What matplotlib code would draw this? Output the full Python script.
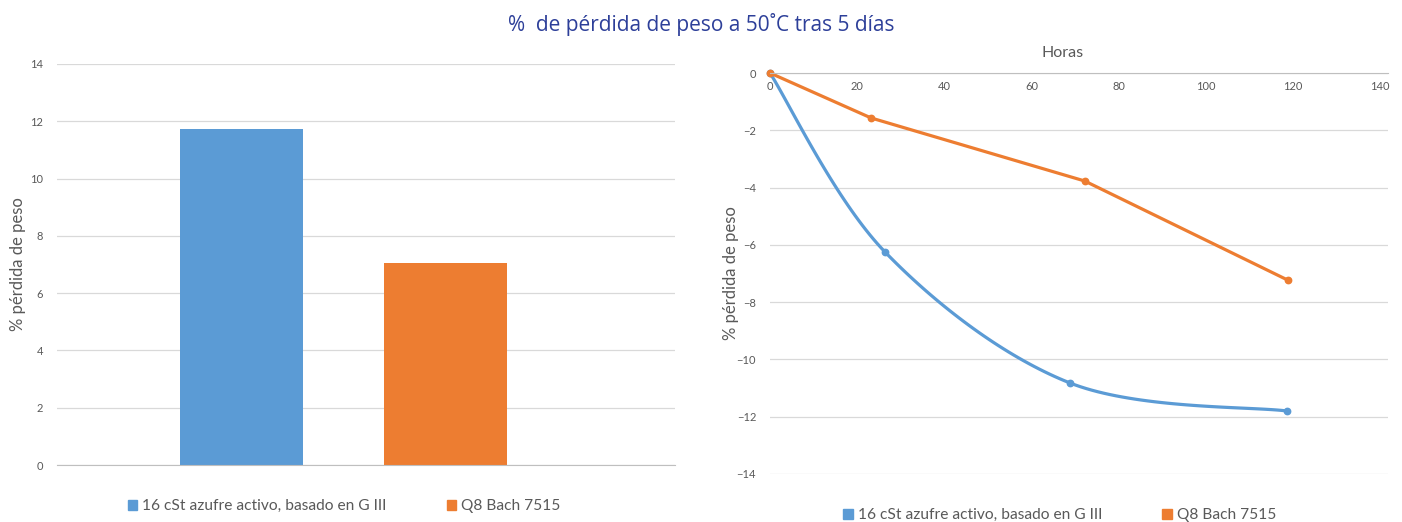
import matplotlib
matplotlib.use("Agg")
import matplotlib.pyplot as plt
import numpy as np
from matplotlib.patches import Patch

# data
series_names = ["16 cSt azufre activo, basado en G III", "Q8 Bach 7515"]
bar_values = [11.73, 7.05]

horas_azufre = [0, 26.4, 68.8, 118.6]
perdida_azufre = [0, -6.25, -10.82, -11.8]
horas_q8 = [0, 23.2, 72.2, 118.8]
perdida_q8 = [0, -1.57, -3.77, -7.23]

blue = "#5B9BD5"
orange = "#ED7D31"
grid_col = "#D9D9D9"
tick_col = "#595959"

plt.rcParams["font.family"] = ["Lato", "DejaVu Sans"]


def smooth(x, y, n=40):
    # Excel-like smoothed line (cardinal bezier through the points)
    x = np.asarray(x, float)
    y = np.asarray(y, float)
    px = np.concatenate([[x[0]], x, [x[-1]]])
    py = np.concatenate([[y[0]], y, [y[-1]]])
    xs, ys = [], []
    t = np.linspace(0, 1, n)
    for i in range(1, len(px) - 2):
        p0 = np.array([px[i], py[i]])
        p3 = np.array([px[i + 1], py[i + 1]])
        p1 = p0 + (np.array([px[i + 1], py[i + 1]]) - np.array([px[i - 1], py[i - 1]])) / 6
        p2 = p3 - (np.array([px[i + 2], py[i + 2]]) - np.array([px[i], py[i]])) / 6
        c = ((1 - t) ** 3)[:, None] * p0 + (3 * (1 - t) ** 2 * t)[:, None] * p1 \
            + (3 * (1 - t) * t ** 2)[:, None] * p2 + (t ** 3)[:, None] * p3
        xs.extend(c[:, 0])
        ys.extend(c[:, 1])
    return xs, ys


fig = plt.figure(figsize=(14.02, 5.22), dpi=100)
fig.text(0.5, 0.954, "%  de pérdida de peso a 50˚C tras 5 días", ha="center", va="center",
         fontsize=15, color="#2D3F99", family=["Open Sans", "DejaVu Sans"])

# left: bar chart
ax1 = fig.add_axes([57 / 1402, 57 / 522, 618 / 1402, 401 / 522])
ax1.bar([0, 1], bar_values, width=0.603, color=[blue, orange])
ax1.set_xlim(-0.904, 2.125)
ax1.set_ylim(0, 14)
ax1.set_yticks(range(0, 15, 2))
ax1.set_xticks([])
ax1.grid(axis="y", color=grid_col, lw=0.9)
ax1.set_axisbelow(True)
for s in ["top", "right", "left"]:
    ax1.spines[s].set_visible(False)
ax1.spines["bottom"].set_color("#BFBFBF")
ax1.tick_params(axis="y", length=0, labelsize=8, labelcolor=tick_col, pad=10)
ax1.set_ylabel("% pérdida de peso", fontsize=12, color=tick_col)
ax1.yaxis.set_label_coords(-31 / 618, 0.5)
handles = [Patch(color=blue), Patch(color=orange)]
ax1.legend(handles, series_names, loc="upper center", bbox_to_anchor=(0.464, -0.05),
           ncol=2, frameon=False, fontsize=11.2, labelcolor=tick_col,
           handlelength=0.6, handleheight=0.6, handletextpad=0.3, columnspacing=3.9)

# right: line chart
ax2 = fig.add_axes([770 / 1402, 48 / 522, 618 / 1402, 401 / 522])
sx, sy = smooth(horas_azufre, perdida_azufre)
ax2.plot(sx, sy, color=blue, lw=2.3, solid_capstyle="round", clip_on=False)
ax2.plot(horas_azufre, perdida_azufre, "o", color=blue, ms=4.6, clip_on=False)
ax2.plot(horas_q8, perdida_q8, "-o", color=orange, lw=2.3, ms=4.6, clip_on=False)
ax2.set_xlim(0, 141.8)
ax2.set_ylim(-14, 0)
ax2.set_yticks(range(-14, 1, 2))
ax2.set_xticks(range(0, 141, 20))
ax2.xaxis.tick_top()
ax2.xaxis.set_label_position("top")
ax2.grid(axis="y", color=grid_col, lw=0.9)
ax2.set_axisbelow(True)
for s in ["bottom", "right", "left"]:
    ax2.spines[s].set_visible(False)
ax2.spines["top"].set_color("#BFBFBF")
ax2.tick_params(axis="x", length=0, labelsize=8, labelcolor=tick_col, pad=-14)
ax2.tick_params(axis="y", length=0, labelsize=8, labelcolor=tick_col, pad=10)
ax2.set_xlabel("Horas", fontsize=11.5, color=tick_col)
ax2.xaxis.set_label_coords(293 / 618, 1.04)
ax2.set_ylabel("% pérdida de peso", fontsize=12, color=tick_col)
ax2.yaxis.set_label_coords(-31 / 618, 0.5)
ax2.legend([plt.Line2D([], [], marker="s", ls="", color=blue, ms=7),
            plt.Line2D([], [], marker="s", ls="", color=orange, ms=7)],
           series_names, loc="upper center", bbox_to_anchor=(0.469, -0.05),
           ncol=2, frameon=False, fontsize=11.2, labelcolor=tick_col,
           handlelength=0.6, handletextpad=0.3, columnspacing=3.9)

fig.savefig("out.png", dpi=100)
